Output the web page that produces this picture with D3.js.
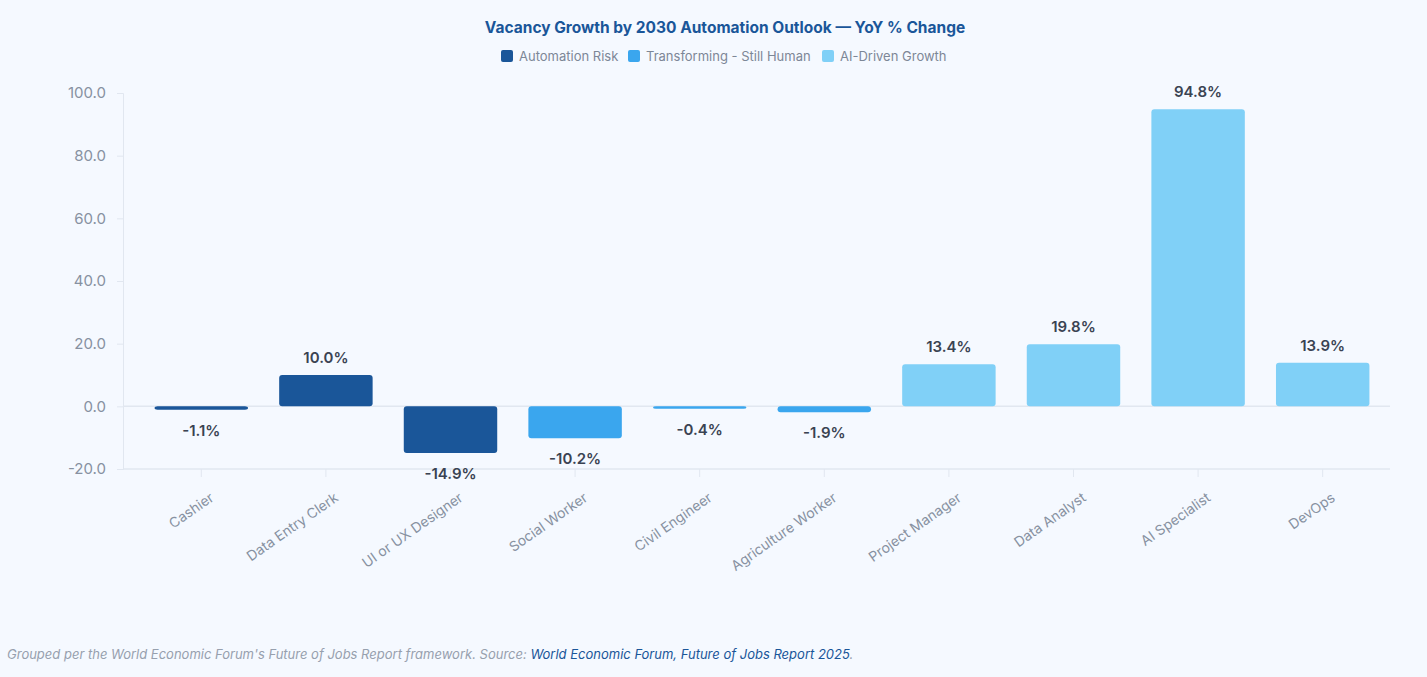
<!DOCTYPE html>
<html><head><meta charset="utf-8">
<script src="https://cdn.jsdelivr.net/npm/d3@7"></script>
<style>
body{margin:0;background:#f5f9ff;font-family:Inter,"Noto Sans",sans-serif;}
</style></head><body>
<svg id="chart" width="1427" height="677"></svg>
<script>
// data
const categories = ["Cashier","Data Entry Clerk","UI or UX Designer","Social Worker","Civil Engineer","Agriculture Worker","Project Manager","Data Analyst","AI Specialist","DevOps"];
const values = [-1.1, 10.0, -14.9, -10.2, -0.4, -1.9, 13.4, 19.8, 94.8, 13.9];
const groups = ["Automation Risk","Automation Risk","Automation Risk","Transforming - Still Human","Transforming - Still Human","Transforming - Still Human","AI-Driven Growth","AI-Driven Growth","AI-Driven Growth","AI-Driven Growth"];
const groupNames = ["Automation Risk","Transforming - Still Human","AI-Driven Growth"];
const groupColors = ["#1a5699","#3aa6ee","#80d0f7"];
const yTicks = [-20, 0, 20, 40, 60, 80, 100];

const svg = d3.select("#chart");
const color = d3.scaleOrdinal().domain(groupNames).range(groupColors);
const x = d3.scaleBand().domain(categories).range([139, 1385]).paddingInner(0.25).paddingOuter(0.125);
const y = d3.scaleLinear().domain([-20, 100]).range([469, 93]);
const fmt = v => d3.format(".1f")(v).replace("−", "-");

svg.append("text").attr("x", 725).attr("y", 33).attr("text-anchor", "middle")
  .attr("font-size", 15.5).attr("font-weight", 700).attr("fill", "#1a5699")
  .text("Vacancy Growth by 2030 Automation Outlook — YoY % Change");

// legend
const legendX = [501, 628, 822];
groupNames.forEach((g, i) => {
  const lg = svg.append("g").attr("transform", `translate(${legendX[i]},50)`);
  lg.append("rect").attr("width", 12).attr("height", 12).attr("rx", 2).attr("fill", groupColors[i]);
  lg.append("text").attr("x", 18).attr("y", 10.5).attr("font-size", 13).attr("fill", "#7d8797").text(g);
});

// y axis
const yAxis = svg.append("g").attr("transform", "translate(123,0)")
  .call(d3.axisLeft(y).tickValues(yTicks).tickFormat(fmt).tickSize(6).tickPadding(11));
yAxis.select(".domain").attr("stroke", "#e1e7f0");
yAxis.selectAll(".tick line").attr("stroke", "#e1e7f0");
yAxis.selectAll("text").attr("font-size", 15).attr("fill", "#8791a1").attr("font-family", "Inter,sans-serif");

// zero line
svg.append("line").attr("x1", 123).attr("x2", 1390).attr("y1", y(0)).attr("y2", y(0))
  .attr("stroke", "#e1e7f0").attr("stroke-width", 1.5);

// x axis
const xAxis = svg.append("g").attr("transform", `translate(0,${y(-20)})`)
  .call(d3.axisBottom(x).tickSize(8).tickPadding(6));
xAxis.select(".domain").attr("stroke", "#e1e7f0").attr("d", "M123,0H1390").attr("stroke-width", 1.5);
xAxis.selectAll(".tick line").attr("stroke", "#e1e7f0");
xAxis.selectAll("text").attr("font-size", 14).attr("fill", "#8791a1").attr("font-family", "Inter,sans-serif")
  .attr("text-anchor", "end").attr("dy", "0.3em")
  .attr("transform", "translate(3,16) rotate(-35)");

// bars
const bar = svg.append("g").selectAll("g").data(categories).enter().append("g");
bar.append("rect")
  .attr("x", d => x(d))
  .attr("width", x.bandwidth())
  .attr("y", (d, i) => Math.min(y(values[i]), y(0)))
  .attr("height", (d, i) => Math.max(Math.abs(y(values[i]) - y(0)), 2.5))
  .attr("rx", 3)
  .attr("fill", (d, i) => color(groups[i]));
bar.append("text")
  .attr("x", d => x(d) + x.bandwidth() / 2)
  .attr("y", (d, i) => values[i] >= 0 ? y(values[i]) - 12 : Math.max(y(values[i]), y(0) + 2.5) + 26)
  .attr("text-anchor", "middle").attr("font-size", 15).attr("font-weight", 600).attr("fill", "#3a4352")
  .text((d, i) => fmt(values[i]) + "%");

// footer
const ft = svg.append("text").attr("x", 7).attr("y", 659).attr("font-size", 13).attr("font-style", "italic").attr("fill", "#97a0ae");
ft.append("tspan").text("Grouped per the World Economic Forum's Future of Jobs Report framework. Source: ");
ft.append("tspan").attr("fill", "#1a5699").text("World Economic Forum, Future of Jobs Report 2025");
ft.append("tspan").text(".");
</script>
</body></html>
